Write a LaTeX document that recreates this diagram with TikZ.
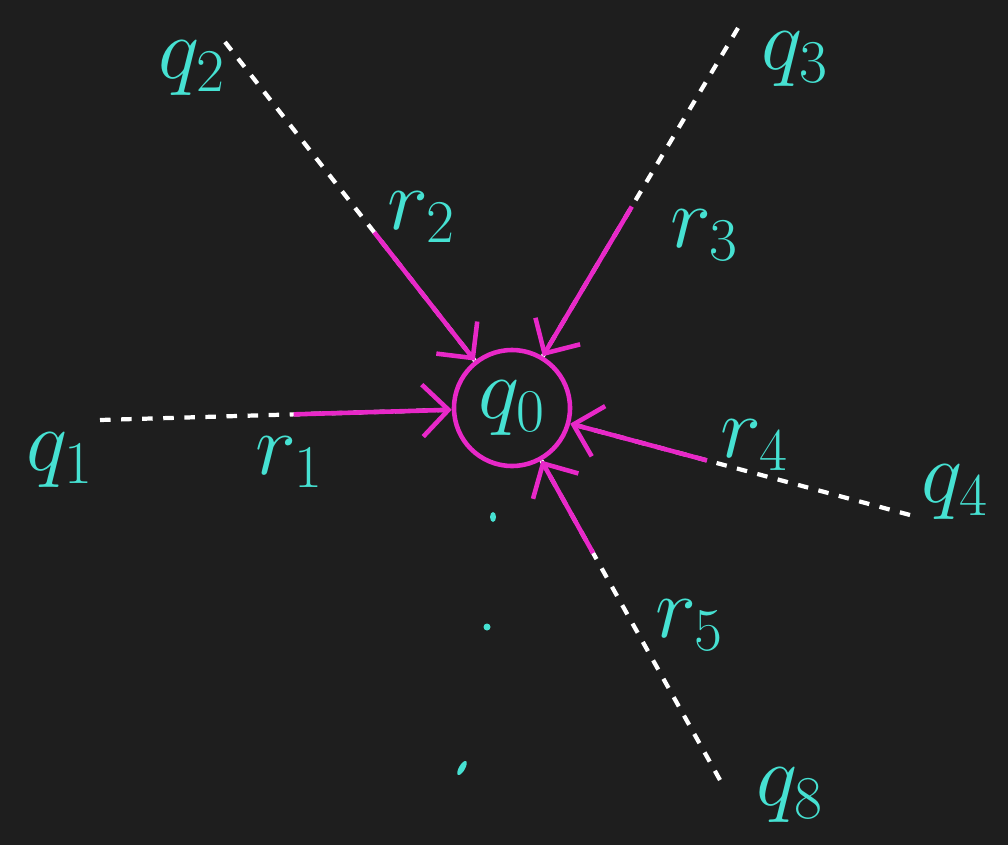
\documentclass[tikz,border=0pt]{standalone}
\usepackage{amsmath, amssymb}
\usepackage{tikz}
\usetikzlibrary{arrows.meta, positioning, calc}
\definecolor{board}{RGB}{30,30,30}
\definecolor{chalkcyan}{RGB}{70,225,210}
\definecolor{chalkpink}{RGB}{232,40,200}

\begin{document}
\begin{tikzpicture}[>={Straight Barb[length=2.6mm, width=5.2mm]},
    trail/.style={white, line width=1.2pt, dash pattern=on 3pt off 3pt},
    push/.style={->, chalkpink, line width=1.3pt},
    tag/.style={text=chalkcyan, font=\fontsize{24}{24}\selectfont},
    blob/.style={fill=chalkcyan, draw=none}]
  \fill[board] (0,0) rectangle (10.08,8.45);
  \useasboundingbox (0,0) rectangle (10.08,8.45);
  % centre state
  \node[tag, circle, draw=chalkpink, line width=1.3pt, minimum size=1.16cm,
        inner sep=0pt] (q0) at (5.12,4.37) {$q_0$};
  % far ends of the dotted trails
  \coordinate (e1) at (1.00,4.25);
  \coordinate (e2) at (2.25,8.03);
  \coordinate (e3) at (7.38,8.17);
  \coordinate (e4) at (9.10,3.30);
  \coordinate (e8) at (7.20,0.65);
  \foreach \e in {e1,e2,e3,e4,e8}
    \draw[trail] (\e) -- (q0);
  % arrows into q0
  \coordinate (s1) at ($(e1)!0.47!(q0)$);
  \coordinate (s2) at ($(e2)!0.52!(q0)$);
  \coordinate (s3) at ($(e3)!0.47!(q0)$);
  \coordinate (s4) at ($(e4)!0.51!(q0)$);
  \coordinate (s5) at ($(e8)!0.61!(q0)$);
  \foreach \s in {s1,s2,s3,s4,s5}
    \draw[push] (\s) -- (q0);
  % state labels
  \node[tag] (q1) at (0.60,3.85) {$q_1$};
  \node[tag] (q2) at (1.92,7.77) {$q_2$};
  \node[tag] (q3) at (7.95,7.86) {$q_3$};
  \node[tag] (q4) at (9.55,3.53) {$q_4$};
  \node[tag] (q8) at (7.90,0.50) {$q_8$};
  % arrow labels
  \node[tag] (r1) at (2.90,3.83) {$r_1$};
  \node[tag] (r2) at (4.22,6.28) {$r_2$};
  \node[tag] (r3) at (7.05,6.10) {$r_3$};
  \node[tag] (r4) at (7.55,4.00) {$r_4$};
  \node[tag] (r5) at (6.90,2.20) {$r_5$};
  % dots
  \fill[blob] (4.93,3.28) ellipse (0.03 and 0.05);
  \fill[blob] (4.87,2.18) circle (0.035);
  \fill[blob, rotate around={-30:(4.62,0.77)}] (4.62,0.77) ellipse (0.03 and 0.08);
\end{tikzpicture}
\end{document}
